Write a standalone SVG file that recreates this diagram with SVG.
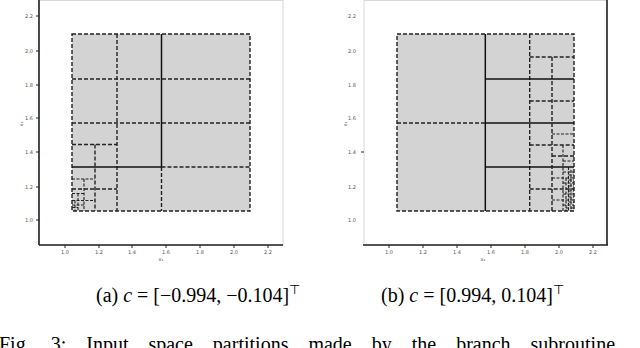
<svg xmlns="http://www.w3.org/2000/svg" width="640" height="348" viewBox="0 0 640 348">
<style>
.frame{fill:none;stroke:#d8d8d8;stroke-width:1}
.ax{stroke:#222;stroke-width:1.6;fill:none}
.tk{stroke:#222;stroke-width:1}
.tl{font-family:"DejaVu Sans",sans-serif;font-size:5px;fill:#555;text-anchor:middle}
.cell{fill:#d3d3d3}
.d{stroke:#222;stroke-width:1.4;stroke-dasharray:4 2;fill:none}
.dl{stroke:#222;stroke-width:1.1;stroke-dasharray:3 1.5;fill:none}
.s{stroke:#111;stroke-width:1.5;fill:none}
.cap{font-family:"Liberation Serif","Times New Roman",serif;font-size:20px;fill:#000}
</style>

<g id="plot-a">
  <rect class="frame" x="39" y="0.5" width="244" height="244.5"/>
  <line class="ax" x1="39" y1="0" x2="39" y2="245"/>
  <line class="ax" x1="39" y1="245" x2="283" y2="245"/>
  <g class="tk">
    <line x1="65" y1="245" x2="65" y2="248"/><line x1="99" y1="245" x2="99" y2="248"/><line x1="132" y1="245" x2="132" y2="248"/><line x1="166" y1="245" x2="166" y2="248"/><line x1="200" y1="245" x2="200" y2="248"/><line x1="234" y1="245" x2="234" y2="248"/><line x1="268" y1="245" x2="268" y2="248"/>
    <line x1="36" y1="16" x2="39" y2="16"/><line x1="36" y1="51" x2="39" y2="51"/><line x1="36" y1="85" x2="39" y2="85"/><line x1="36" y1="118" x2="39" y2="118"/><line x1="36" y1="152" x2="39" y2="152"/><line x1="36" y1="187" x2="39" y2="187"/><line x1="36" y1="220" x2="39" y2="220"/>
  </g>
  <g class="tl">
    <text x="65" y="254">1.0</text><text x="99" y="254">1.2</text><text x="132" y="254">1.4</text><text x="166" y="254">1.6</text><text x="200" y="254">1.8</text><text x="234" y="254">2.0</text><text x="268" y="254">2.2</text>
    <text x="29" y="18">2.2</text><text x="29" y="53">2.0</text><text x="29" y="87">1.8</text><text x="29" y="120">1.6</text><text x="29" y="154">1.4</text><text x="29" y="189">1.2</text><text x="29" y="222">1.0</text>
    <text x="161" y="261">x₁</text>
    <text x="21" y="126" transform="rotate(-90 21 124)">x₂</text>
  </g>
  <rect class="cell" x="72" y="34" width="178" height="177"/>
  <g id="conn-a">
    <rect class="d" x="72" y="34" width="178" height="177"/>
    <line class="d" x1="117" y1="34" x2="117" y2="211"/>
    <line class="s" x1="161.5" y1="34" x2="161.5" y2="167"/>
    <line class="d" x1="161.5" y1="167" x2="161.5" y2="211"/>
    <line class="d" x1="72" y1="79" x2="250" y2="79"/>
    <line class="d" x1="72" y1="123" x2="250" y2="123"/>
    <line class="s" x1="72" y1="167" x2="161.5" y2="167"/>
    <line class="d" x1="161.5" y1="167" x2="250" y2="167"/>
    <line class="d" x1="72" y1="144.5" x2="117" y2="144.5"/>
    <line class="d" x1="95" y1="144.5" x2="95" y2="211"/>
    <line class="d" x1="72" y1="189" x2="117" y2="189"/>
    <line class="dl" x1="72" y1="179" x2="95" y2="179"/>
    <line class="dl" x1="72" y1="200.5" x2="95" y2="200.5"/>
    <line class="dl" x1="84" y1="179" x2="84" y2="211"/>
    <line class="dl" x1="72" y1="193.5" x2="84" y2="193.5"/>
    <line class="dl" x1="72" y1="205" x2="84" y2="205"/>
    <line class="dl" x1="78" y1="193.5" x2="78" y2="211"/>
    <line class="dl" x1="72" y1="207.5" x2="78" y2="207.5"/>
    <line class="dl" x1="75" y1="200.5" x2="75" y2="211"/>
  </g>
</g>

<g id="plot-b">
  <rect class="frame" x="364" y="0.5" width="243" height="244.5"/>
  <line class="ax" x1="363" y1="245" x2="608" y2="245"/>
  <line class="ax" x1="607" y1="0" x2="607" y2="245"/>
  <g class="tk">
    <line x1="389" y1="245" x2="389" y2="248"/><line x1="423" y1="245" x2="423" y2="248"/><line x1="457" y1="245" x2="457" y2="248"/><line x1="491" y1="245" x2="491" y2="248"/><line x1="525" y1="245" x2="525" y2="248"/><line x1="559" y1="245" x2="559" y2="248"/><line x1="593" y1="245" x2="593" y2="248"/>
    <line x1="361" y1="152" x2="364" y2="152"/>
  </g>
  <g class="tl">
    <text x="389" y="254">1.0</text><text x="423" y="254">1.2</text><text x="457" y="254">1.4</text><text x="491" y="254">1.6</text><text x="525" y="254">1.8</text><text x="559" y="254">2.0</text><text x="593" y="254">2.2</text>
    <text x="352" y="18">2.2</text><text x="352" y="53">2.0</text><text x="352" y="87">1.8</text><text x="352" y="120">1.6</text><text x="352" y="154">1.4</text><text x="352" y="189">1.2</text><text x="352" y="222">1.0</text>
    <text x="483" y="261">x₁</text>
    <text x="345" y="126" transform="rotate(-90 345 124)">x₂</text>
  </g>
  <rect class="cell" x="397" y="34" width="177" height="177"/>
  <g id="conn-b">
    <rect class="d" x="397" y="34" width="177" height="177"/>
    <line class="s" x1="485.3" y1="34" x2="485.3" y2="211"/>
    <line class="d" x1="529.7" y1="34" x2="529.7" y2="211"/>
    <line class="d" x1="397" y1="123" x2="485.3" y2="123"/>
    <line class="s" x1="485.3" y1="123" x2="574" y2="123"/>
    <line class="s" x1="485.3" y1="79" x2="574" y2="79"/>
    <line class="s" x1="485.3" y1="167" x2="574" y2="167"/>
    <line class="d" x1="529.7" y1="57" x2="574" y2="57"/>
    <line class="d" x1="529.7" y1="101" x2="574" y2="101"/>
    <line class="d" x1="529.7" y1="145" x2="574" y2="145"/>
    <line class="d" x1="529.7" y1="189" x2="574" y2="189"/>
    <line class="d" x1="552" y1="57" x2="552" y2="211"/>
    <line class="dl" x1="552" y1="134" x2="574" y2="134"/>
    <line class="d" x1="552" y1="156" x2="574" y2="156"/>
    <line class="dl" x1="552" y1="178" x2="574" y2="178"/>
    <line class="dl" x1="552" y1="200" x2="574" y2="200"/>
    <line class="dl" x1="563" y1="145" x2="563" y2="211"/>
    <line class="dl" x1="563" y1="161" x2="574" y2="161"/>
    <line class="dl" x1="563" y1="172" x2="574" y2="172"/>
    <line class="dl" x1="563" y1="183" x2="574" y2="183"/>
    <line class="dl" x1="563" y1="194" x2="574" y2="194"/>
    <line class="dl" x1="563" y1="205" x2="574" y2="205"/>
    <line class="dl" x1="568.5" y1="167" x2="568.5" y2="211"/>
    <line class="dl" x1="571" y1="170" x2="571" y2="211"/>
    <line class="dl" x1="566" y1="178" x2="566" y2="211"/>
    <line class="dl" x1="568.5" y1="175" x2="574" y2="175"/>
    <line class="dl" x1="568.5" y1="180" x2="574" y2="180"/>
    <line class="dl" x1="568.5" y1="186" x2="574" y2="186"/>
    <line class="dl" x1="568.5" y1="191" x2="574" y2="191"/>
    <line class="dl" x1="568.5" y1="197" x2="574" y2="197"/>
    <line class="dl" x1="568.5" y1="202" x2="574" y2="202"/>
    <line class="dl" x1="566" y1="208" x2="574" y2="208"/>
  </g>
</g>

<g id="captions">
  <text class="cap" x="96" y="302">(a) <tspan font-style="italic">c</tspan> = [−0.994, −0.104]<tspan font-size="13" dy="-8">⊤</tspan></text>
  <text class="cap" x="381" y="302">(b) <tspan font-style="italic">c</tspan> = [0.994, 0.104]<tspan font-size="13" dy="-8">⊤</tspan></text>
  <text class="cap" x="-1" y="351" font-size="23" word-spacing="15">Fig. 3: Input space partitions made by the branch subroutine</text>
</g>
</svg>
